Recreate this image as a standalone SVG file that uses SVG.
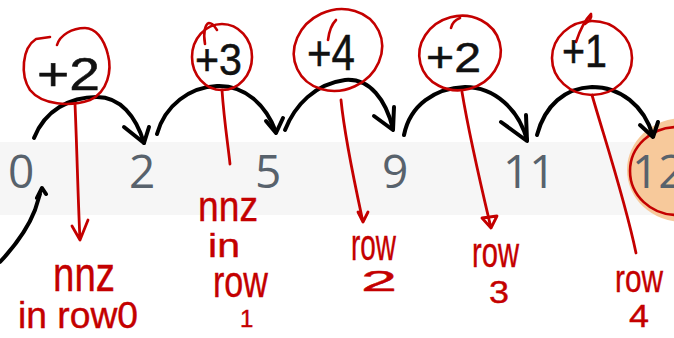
<svg xmlns="http://www.w3.org/2000/svg" width="674" height="338" viewBox="0 0 674 338">
  <style>
    .num { font-family: "Open Sans", "Noto Sans", sans-serif; font-size: 46px; fill: #58626c; }
    .step { font-family: "Liberation Sans", "DejaVu Sans", sans-serif; fill: #111; stroke: #111; stroke-width: 0.5; }
    .note { font-family: "Liberation Sans", "DejaVu Sans", sans-serif; fill: #c40000; stroke: #c40000; stroke-width: 0.4; }
    .ring { fill: none; stroke: #c40000; stroke-width: 2.6; stroke-linecap: round; stroke-linejoin: round; }
    .arc { fill: none; stroke: #000; stroke-width: 4; stroke-linecap: round; stroke-linejoin: round; }
    .lead { fill: none; stroke: #c40000; stroke-width: 2.8; stroke-linecap: round; stroke-linejoin: round; }
  </style>

  <rect width="674" height="338" fill="#ffffff"/>
  <!-- row_ptr strip -->
  <rect id="band" x="0" y="142" width="674" height="73" fill="#f6f6f6"/>

  <!-- highlighted last entry -->
  <ellipse cx="683" cy="170" rx="56" ry="52" fill="#f7c99b"/>

  <g id="ptr-0"><text class="num" x="8" y="188">0</text></g>
  <g id="ptr-1"><text class="num" x="129" y="188">2</text></g>
  <g id="ptr-2"><text class="num" x="255" y="188">5</text></g>
  <g id="ptr-3"><text class="num" x="382" y="188">9</text></g>
  <g id="ptr-4"><text class="num" x="503" y="188">11</text></g>
  <g id="ptr-5">
    <text class="num" x="632" y="188">12</text>
    <ellipse class="ring" cx="677" cy="171" rx="47" ry="44"/>
  </g>

  <g id="connectors">
    <!-- jumps between consecutive pointers -->
    <path class="arc" d="M34,138 C45,110 70,97 97,97 C120,97 136,116 144,143"/>
    <path class="arc" d="M124,127 L144,143 L149,127"/>
    <path class="arc" d="M157,134 C165,105 190,87 217,86 C245,85 266,105 276,132"/>
    <path class="arc" d="M266,121 L276,133 L283,118"/>
    <path class="arc" d="M285,130 C295,105 315,84 345,80 C370,78 386,100 393,129"/>
    <path class="arc" d="M374,116 L393,130 L394,107"/>
    <path class="arc" d="M404,135 C410,105 435,88 465,87 C495,87 519,110 527,140"/>
    <path class="arc" d="M501,122 L527,141 L526,115"/>
    <path class="arc" d="M537,135 C545,105 565,88 592,87 C620,87 644,105 653,136"/>
    <path class="arc" d="M640,125 L653,137 L658,122"/>
    <path class="arc" d="M0,262 C15,246 28,228 35,210 L40,194 M37,198 L42,188 L46,194"/>

    <!-- leaders from each step to its row note -->
    <path class="lead" d="M75,104 C77,150 78,200 80,240 M72,226 L80,240 L88,220"/>
    <path class="lead" d="M222,90 C224,120 228,145 230,164"/>
    <path class="lead" d="M341,100 C345,140 355,185 363,222 M358,212 L363,222 L368,212"/>
    <path class="lead" d="M462,92 C470,140 482,190 491,228 M482,218 L491,228 L497,216 Z"/>
    <path class="lead" d="M592,95 C605,140 625,200 636,253"/>
  </g>

  <g id="step-1">
    <path class="ring" d="M50,37 L36,39 C22,48 20,75 30,90 C42,105 70,107 90,100 C108,92 112,70 108,55 C104,38 95,28 85,28 C72,28 60,35 57,45"/>
    <text class="step" x="37" y="90" font-size="46" textLength="63" lengthAdjust="spacingAndGlyphs">+2</text>
  </g>
  <g id="step-2">
    <ellipse class="ring" cx="222" cy="57" rx="30" ry="33"/>
    <path class="ring" d="M205,44 C203,33 205,24 209,23 C213,23 215,27 217,30"/>
    <text class="step" x="195" y="75" font-size="44" textLength="47" lengthAdjust="spacingAndGlyphs">+3</text>
  </g>
  <g id="step-3">
    <ellipse class="ring" cx="338" cy="50" rx="45" ry="40" transform="rotate(-25 338 50)"/>
    <path class="ring" d="M328,40 C329,32 331,25 336,20"/>
    <text class="step" x="307" y="70" font-size="50" textLength="48" lengthAdjust="spacingAndGlyphs">+4</text>
  </g>
  <g id="step-4">
    <ellipse class="ring" cx="460" cy="53" rx="41" ry="37" transform="rotate(-15 460 53)"/>
    <path class="ring" d="M451,28 C452,23 455,20 460,18"/>
    <text class="step" x="426" y="72" font-size="42" textLength="55" lengthAdjust="spacingAndGlyphs">+2</text>
  </g>
  <g id="step-5">
    <ellipse class="ring" cx="592" cy="58" rx="40" ry="37"/>
    <path class="ring" d="M576,42 C580,30 585,20 591,14 C592,18 588,22 585,24"/>
    <text class="step" x="562" y="67" font-size="46" textLength="45" lengthAdjust="spacingAndGlyphs">+1</text>
  </g>

  <g id="note-row0">
    <text class="note" x="53" y="291" font-size="48" textLength="62" lengthAdjust="spacingAndGlyphs">nnz</text>
    <text class="note" x="18" y="328" font-size="36" textLength="120" lengthAdjust="spacingAndGlyphs">in row0</text>
  </g>
  <g id="note-row1">
    <text class="note" x="198" y="221" font-size="42" textLength="60" lengthAdjust="spacingAndGlyphs">nnz</text>
    <text class="note" x="208" y="257" font-size="34" textLength="32" lengthAdjust="spacingAndGlyphs">in</text>
    <text class="note" x="213" y="297" font-size="44" textLength="55" lengthAdjust="spacingAndGlyphs">row</text>
    <text class="note" x="240" y="327" font-size="24">1</text>
  </g>
  <g id="note-row2">
    <text class="note" x="351" y="260" font-size="44" textLength="45" lengthAdjust="spacingAndGlyphs">row</text>
    <text class="note" x="361" y="291" font-size="30" textLength="36" lengthAdjust="spacingAndGlyphs">2</text>
  </g>
  <g id="note-row3">
    <text class="note" x="472" y="267" font-size="42" textLength="47" lengthAdjust="spacingAndGlyphs">row</text>
    <text class="note" x="489" y="303" font-size="32" textLength="20" lengthAdjust="spacingAndGlyphs">3</text>
  </g>
  <g id="note-row4">
    <text class="note" x="615" y="292" font-size="38" textLength="48" lengthAdjust="spacingAndGlyphs">row</text>
    <text class="note" x="629" y="327" font-size="32" textLength="20" lengthAdjust="spacingAndGlyphs">4</text>
  </g>
</svg>
